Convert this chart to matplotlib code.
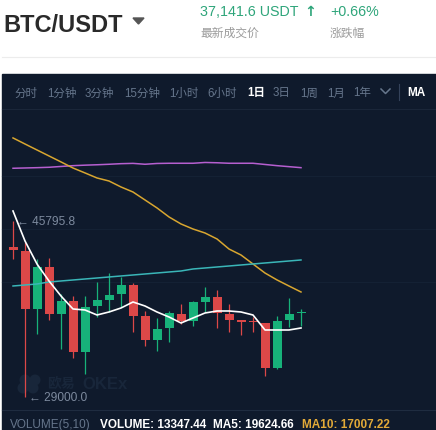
import numpy as np
import matplotlib.pyplot as plt
from matplotlib.patches import Rectangle, Circle

plt.rcParams['font.family'] = ['Liberation Sans', 'Noto Sans CJK SC', 'DejaVu Sans']

# Daily BTC/USDT candles, oldest -> newest
opens = [43315, 42933, 37398, 41406, 36921, 38161, 33294, 37684, 38257, 38829,
         39688, 36730, 34440, 35585, 36921, 36253, 38066, 38543, 36921, 36348,
         36253, 36062, 31767, 36348, 37016]
highs = [45795.8, 43792, 42169, 42265, 38829, 38638, 38638, 39974, 40833, 40452,
         39879, 37207, 36539, 37207, 37875, 38161, 39497, 39211, 37875, 36348,
         36634, 36062, 36730, 38448, 37398]
lows = [42169, 29000.0, 35012, 36348, 33581, 32722, 31195, 36634, 37112, 37589,
        35203, 33867, 33390, 34249, 35966, 35776, 37112, 35585, 35203, 34917,
        35203, 31004, 31672, 35680, 35776]
closes = [43028, 37398, 41406, 36921, 38161, 33294, 37589, 38257, 38734, 39688,
          36730, 34440, 35489, 37016, 36253, 38066, 38543, 37016, 36348, 36157,
          36157, 31767, 36253, 36921, 37112]

# moving average overlays
ma_white = [46750, 43887, 41692, 40070, 38638, 37398, 37302, 36825, 37112, 37493,
            38066, 37684, 37112, 36634, 36062, 36539, 37016, 37207, 37207, 37112,
            36825, 35394, 35394, 35394, 35585]
ma_yellow = [53720, 53140, 52570, 52000, 51430, 50850, 50380, 49900, 49610, 49040,
             48560, 47800, 47040, 46180, 45510, 45030, 44650, 44080, 43120, 42550,
             41690, 40830, 40170, 39590, 39020]
ma_teal = [39593, 39688, 39784, 39974, 40070, 40165, 40261, 40356, 40452, 40547,
           40642, 40738, 40833, 40929, 41024, 41215, 41310, 41406, 41501, 41597,
           41692, 41788, 41883, 41978, 42074]
ma_purple = [50825, 50853, 50882, 50920, 50997, 51073, 51121, 51159, 51207, 51264,
             51292, 51207, 51283, 51302, 51302, 51302, 51378, 51350, 51302, 51302,
             51302, 51187, 51073, 50978, 50882]

periods = ['分时', '1分钟', '3分钟', '15分钟', '1小时', '6小时', '1日', '3日', '1周', '1月', '1年']
period_x = [14, 47, 85, 124, 169, 207, 247, 273, 300, 327, 353]
active_period = '1日'

W, H = 436, 431
BG = '#0f1a2c'
UP = '#17b27a'
DOWN = '#dc4848'
MUTED = '#66768c'
GREEN_TXT = '#2ea57a'
WATERMARK = '#18263a'

fig = plt.figure(figsize=(W / 100, H / 100), dpi=100)
fig.patch.set_facecolor('white')

# pixel-space layer for the page chrome
bg = fig.add_axes([0, 0, 1, 1])
bg.set_xlim(0, W)
bg.set_ylim(H, 0)
bg.axis('off')

bg.add_patch(Rectangle((2, 75), W - 2, H - 75, color=BG, zorder=0))
bg.plot([2, W], [58, 58], color='#ececec', lw=0.8)

# header
bg.text(3, 32, 'BTC/USDT', fontsize=17, fontweight='bold', color='#2a2a2a', va='baseline')
bg.add_patch(plt.Polygon([[133, 19], [144, 19], [138.5, 25]], color='#555555'))
bg.text(200, 15.5, '37,141.6 USDT', fontsize=10.3, color=GREEN_TXT, va='baseline')
bg.text(304, 15.5, '↑', fontsize=10.3, color=GREEN_TXT, va='baseline', fontweight='bold',
        family=['DejaVu Sans'])
bg.text(330, 15.5, '+0.66%', fontsize=10.3, color=GREEN_TXT, va='baseline')
bg.text(200, 37, '最新成交价', fontsize=8.5, color='#9b9b9b', va='baseline')
bg.text(330, 37, '涨跌幅', fontsize=8.5, color='#9b9b9b', va='baseline')

# period toolbar
for label, x in zip(periods, period_x):
    active = label == active_period
    bg.text(x, 96.5, label, fontsize=8.3, va='baseline',
            color='white' if active else MUTED,
            fontweight='bold' if active else 'normal')
bg.plot([381, 385.5, 390], [90, 94.5, 90], color=MUTED, lw=1.1)
bg.plot([399, 399], [85, 101], color='#34425a', lw=0.8)
bg.text(407, 96.5, 'MA', fontsize=8.5, fontweight='bold', color='white', va='baseline')
bg.plot([2, W], [110, 110], color='#1a2639', lw=0.8)

# faint grid rows
for gy in [177, 230, 283]:
    bg.plot([2, W], [gy, gy], color='#142134', lw=0.8)

# watermark
for cx, cy in [(25, 381), (35, 381), (23, 389), (33, 389), (30, 385)]:
    bg.add_patch(Circle((cx, cy), 5.5, color=WATERMARK, lw=0))
bg.text(47, 388, '欧易', fontsize=10, color=WATERMARK, va='baseline', fontweight='bold')
bg.text(82, 389, 'OKEx', fontsize=12, color=WATERMARK, va='baseline', fontweight='bold')

# volume footer
bg.plot([2, W], [411, 411], color='#1f2c40', lw=0.8)
bg.text(10, 428, 'VOLUME(5,10)', fontsize=8.5, color=MUTED, va='baseline')
bg.text(100, 428, 'VOLUME: 13347.44', fontsize=8.5, color='white', fontweight='bold', va='baseline')
bg.text(213, 428, 'MA5: 19624.66', fontsize=8.5, color='white', fontweight='bold', va='baseline')
bg.text(302, 428, 'MA10: 17007.22', fontsize=8.5, color='#e2aa38', fontweight='bold', va='baseline')

# price chart
ax = fig.add_axes([2 / W, 1 - 411 / H, (W - 2) / W, (411 - 110) / H])
ax.set_xlim(-11 / 12, 423 / 12)
ax.set_ylim(27760, 56480)
ax.axis('off')

o = np.array(opens)
c = np.array(closes)
x = np.arange(len(o))
colors = [UP if cc >= oo else DOWN for oo, cc in zip(o, c)]

ax.vlines(x, lows, highs, colors=colors, lw=0.9, zorder=2)
body_h = np.maximum(np.abs(c - o), 110)
ax.bar(x, body_h, bottom=np.minimum(o, c), width=0.75, color=colors, zorder=3)

ax.plot(x, ma_purple, color='#b65fd0', lw=1.1, zorder=4)
ax.plot(x, ma_yellow, color='#d8a630', lw=1.1, zorder=4)
ax.plot(x, ma_teal, color='#3ab6b8', lw=1.1, zorder=4)
ax.plot(x, ma_white, color='white', lw=1.2, zorder=5)

i_hi = int(np.argmax(highs))
i_lo = int(np.argmin(lows))
ax.annotate(f'← {highs[i_hi]:.1f}', xy=(x[i_hi], highs[i_hi]), xytext=(3, 0),
            textcoords='offset points', fontsize=8.6, color='#7d8a9e', va='center')
ax.annotate(f'← {lows[i_lo]:.1f}', xy=(x[i_lo], lows[i_lo]), xytext=(3, 0),
            textcoords='offset points', fontsize=8.6, color='#7d8a9e', va='center')

fig.savefig('out.png', dpi=100, facecolor='white')
